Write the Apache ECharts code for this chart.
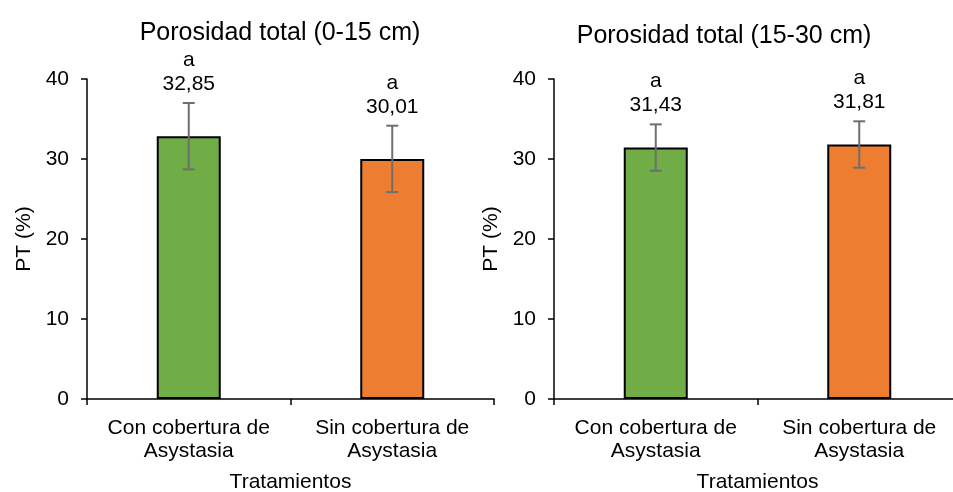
<!DOCTYPE html>
<html>
<head>
<meta charset="utf-8">
<script src="https://cdn.jsdelivr.net/npm/echarts@6/dist/echarts.min.js"></script>
<style>
  html, body { margin: 0; padding: 0; background: #fff; }
  #chart { width: 953px; height: 492px; }
</style>
</head>
<body>
<div id="chart"></div>
<script>
  // datos
  var categories = ['Con cobertura de\nAsystasia', 'Sin cobertura de\nAsystasia']
  var titles = ['Porosidad total (0-15 cm)', 'Porosidad total (15-30 cm)']
  var pt0_15 = [32.85, 30.01]
  var err0_15 = [4.15, 4.15]
  var letras0_15 = ['a', 'a']
  var pt15_30 = [31.43, 31.81]
  var err15_30 = [2.9, 2.9]
  var letras15_30 = ['a', 'a']
  var barColors = ['#70AD47', '#ED7D31']
  var yMin = 0
  var yMax = 40
  var yStep = 10

  var font = 'Liberation Sans, Arial, sans-serif'
  var myChart = echarts.init(document.getElementById('chart'))

  function fmt(v) {
    return v.toFixed(2).replace('.', ',')
  }

  function barData(values) {
    return values.map(function(v, i) {
      return { value: v, itemStyle: { color: barColors[i] } }
    })
  }

  function errData(values, errs, letters) {
    return values.map(function(v, i) {
      return [i, v, errs[i], letters[i]]
    })
  }

  function renderErr(params, api) {
    var x = api.value(0)
    var v = api.value(1)
    var e = api.value(2)
    var idx = params.dataIndex
    var src = params.seriesIndex === 1 ? letras0_15 : letras15_30
    var vals = params.seriesIndex === 1 ? pt0_15 : pt15_30
    var hi = api.coord([x, v + e])
    var lo = api.coord([x, v - e])
    var cap = 6
    var st = { stroke: '#6e6e6e', lineWidth: 2 }
    return {
      type: 'group',
      children: [
        { type: 'line', shape: { x1: hi[0], y1: hi[1], x2: lo[0], y2: lo[1] }, style: st },
        { type: 'line', shape: { x1: hi[0] - cap, y1: hi[1], x2: hi[0] + cap, y2: hi[1] }, style: st },
        { type: 'line', shape: { x1: lo[0] - cap, y1: lo[1], x2: lo[0] + cap, y2: lo[1] }, style: st },
        {
          type: 'text',
          style: {
            text: src[idx] + '\n' + fmt(vals[idx]),
            x: hi[0],
            y: hi[1] - 7,
            textAlign: 'center',
            textVerticalAlign: 'bottom',
            fontSize: 21,
            fontFamily: font,
            lineHeight: 24,
            fill: '#000'
          }
        }
      ]
    }
  }

  function xAxisCfg(gridIndex) {
    return {
      type: 'category',
      gridIndex: gridIndex,
      data: categories,
      name: 'Tratamientos',
      nameLocation: 'middle',
      nameGap: 73,
      nameTextStyle: { fontSize: 21, fontFamily: font, color: '#000' },
      axisLine: { lineStyle: { color: '#000', width: 1.5 } },
      axisTick: { show: true, length: 6, lineStyle: { color: '#000', width: 1.5 } },
      axisLabel: { fontSize: 21, fontFamily: font, color: '#000', lineHeight: 23, margin: 18, interval: 0 }
    }
  }

  function yAxisCfg(gridIndex) {
    return {
      type: 'value',
      gridIndex: gridIndex,
      min: yMin,
      max: yMax,
      interval: yStep,
      name: 'PT (%)',
      nameLocation: 'middle',
      nameGap: 52,
      nameTextStyle: { fontSize: 21, fontFamily: font, color: '#000' },
      axisLine: { show: true, lineStyle: { color: '#000', width: 1.5 } },
      axisTick: { show: true, length: 6, lineStyle: { color: '#000', width: 1.5 } },
      axisLabel: { fontSize: 21, fontFamily: font, color: '#000', margin: 18 },
      splitLine: { show: false }
    }
  }

  var option = {
    animation: false,
    backgroundColor: '#fff',
    title: [
      { text: titles[0], left: 275, top: 16, textAlign: 'center', textStyle: { fontSize: 25, fontWeight: 'normal', fontFamily: font, color: '#000' } },
      { text: titles[1], left: 719, top: 19, textAlign: 'center', textStyle: { fontSize: 25, fontWeight: 'normal', fontFamily: font, color: '#000' } }
    ],
    grid: [
      { left: 87, top: 79, width: 407, height: 320, outerBoundsMode: 'none', containLabel: false },
      { left: 554, top: 79, width: 407, height: 320, outerBoundsMode: 'none', containLabel: false }
    ],
    xAxis: [xAxisCfg(0), xAxisCfg(1)],
    yAxis: [yAxisCfg(0), yAxisCfg(1)],
    series: [
      {
        type: 'bar', xAxisIndex: 0, yAxisIndex: 0, barWidth: 64,
        itemStyle: { borderColor: '#000', borderWidth: 2 },
        data: barData(pt0_15)
      },
      {
        type: 'custom', xAxisIndex: 0, yAxisIndex: 0,
        renderItem: renderErr, z: 5,
        data: errData(pt0_15, err0_15, letras0_15)
      },
      {
        type: 'bar', xAxisIndex: 1, yAxisIndex: 1, barWidth: 64,
        itemStyle: { borderColor: '#000', borderWidth: 2 },
        data: barData(pt15_30)
      },
      {
        type: 'custom', xAxisIndex: 1, yAxisIndex: 1,
        renderItem: renderErr, z: 5,
        data: errData(pt15_30, err15_30, letras15_30)
      }
    ]
  }

  myChart.setOption(option)
</script>
</body>
</html>
